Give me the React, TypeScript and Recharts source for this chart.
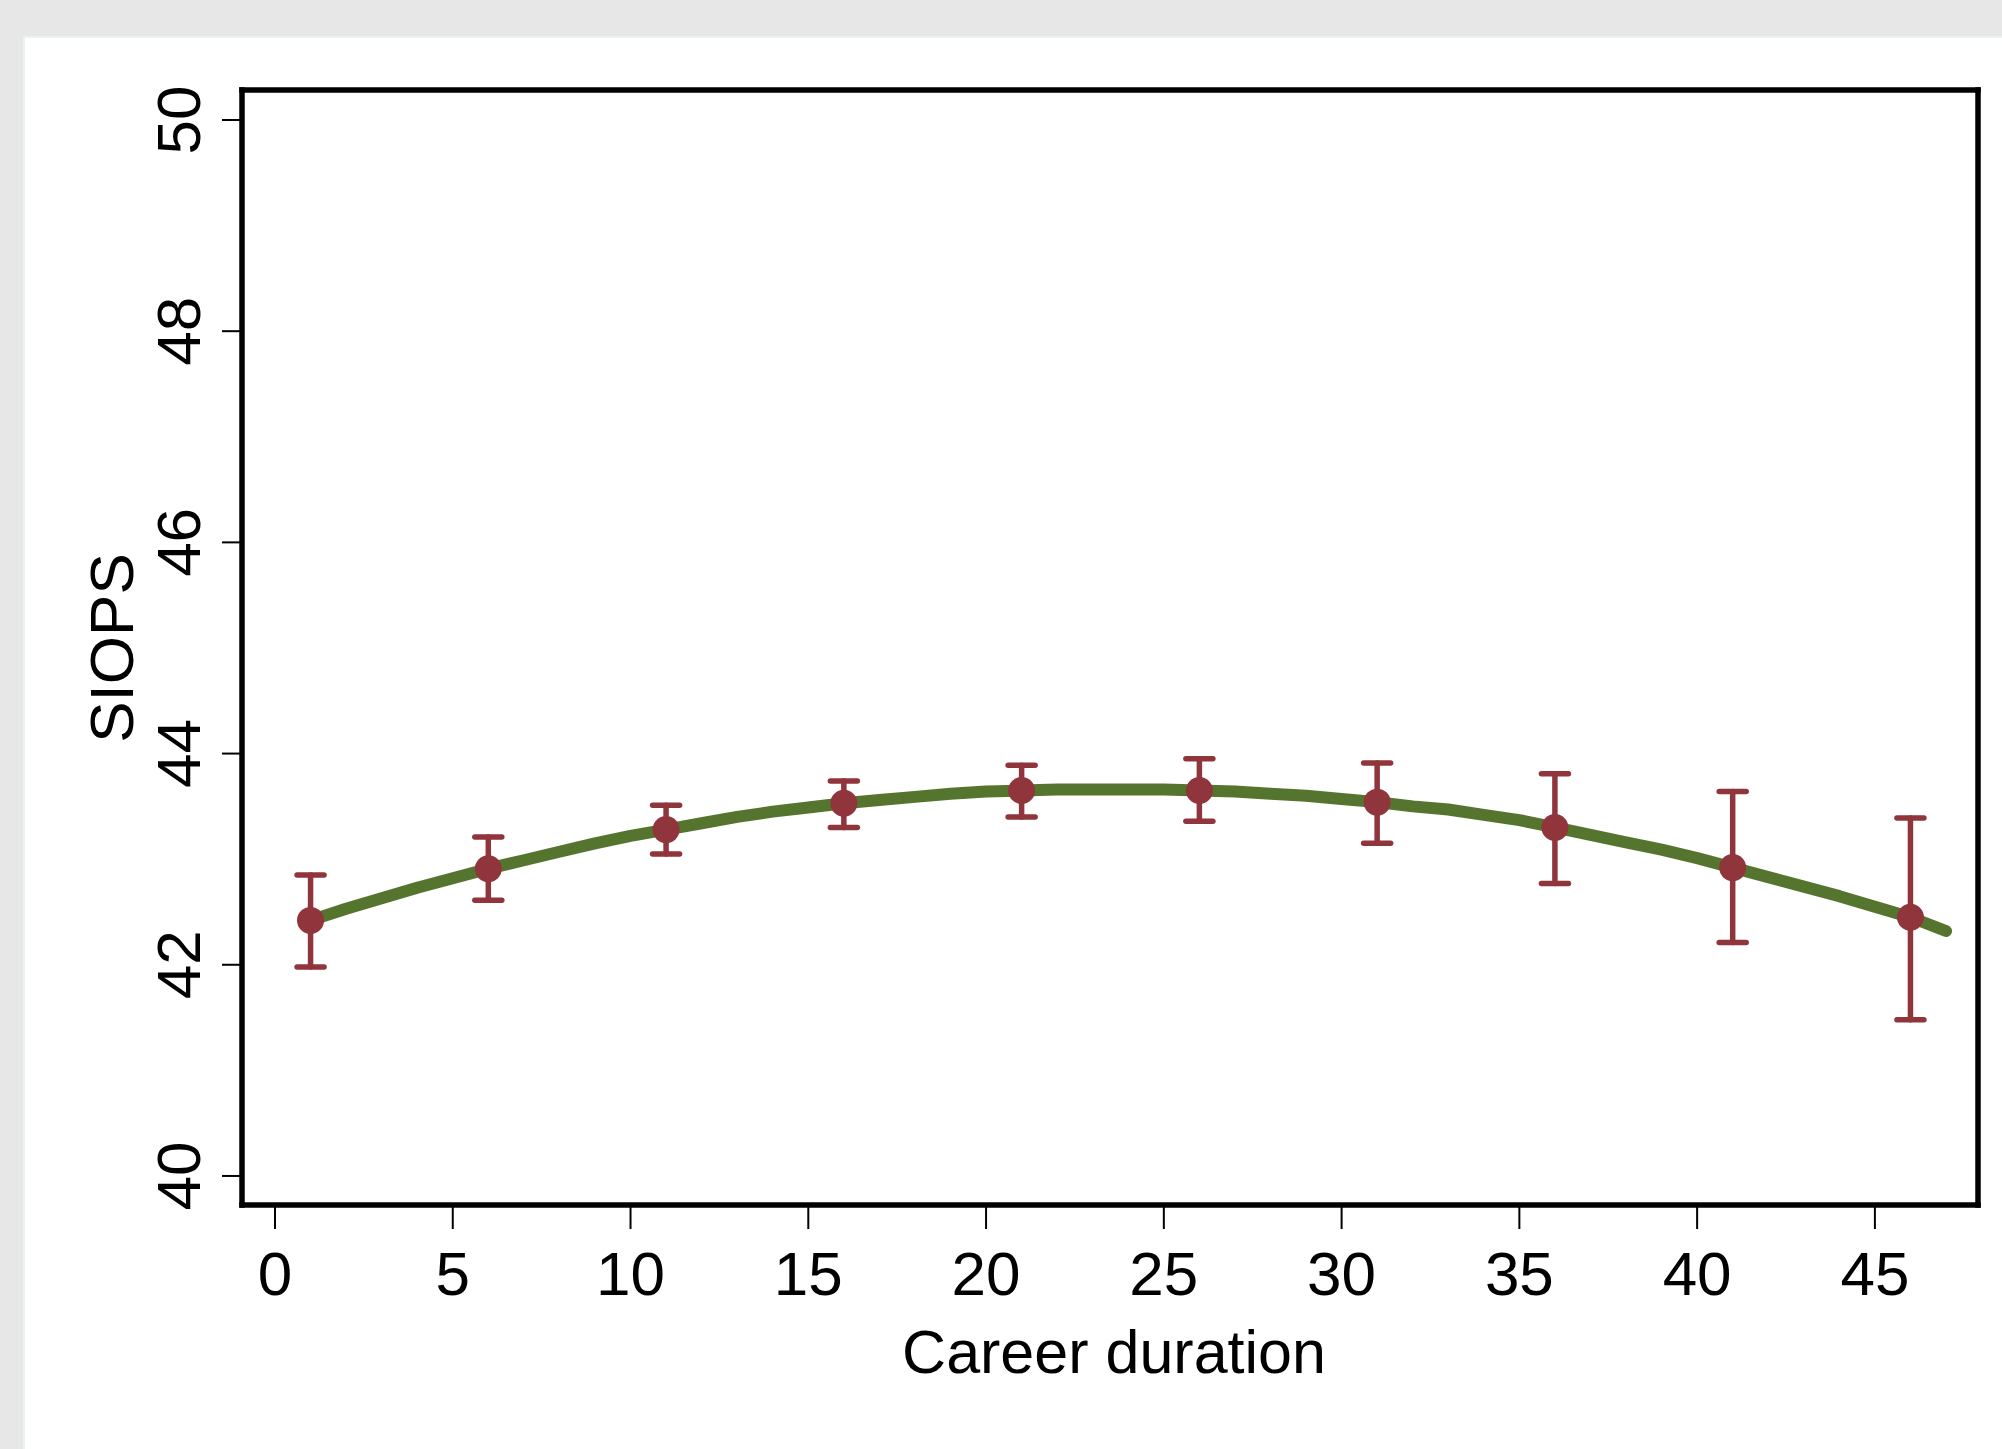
import { ComposedChart, Line, Scatter, ErrorBar, XAxis, YAxis } from 'recharts';

// fitted curve, one value per career year
const curveYears = [
  1, 2, 3, 4, 5, 6, 7, 8, 9, 10, 11, 12, 13, 14, 15, 16, 17, 18, 19, 20, 21, 22, 23, 24,
  25, 26, 27, 28, 29, 30, 31, 32, 33, 34, 35, 36, 37, 38, 39, 40, 41, 42, 43, 44, 45, 46, 47,
];
const curveValues = [
  42.42, 42.53, 42.63, 42.73, 42.82, 42.91, 42.99, 43.07, 43.15, 43.22, 43.28, 43.34, 43.4,
  43.45, 43.49, 43.53, 43.56, 43.59, 43.62, 43.64, 43.65, 43.66, 43.66, 43.66, 43.66, 43.65,
  43.64, 43.62, 43.6, 43.57, 43.54, 43.5, 43.47, 43.42, 43.37, 43.3, 43.23, 43.16, 43.09,
  43.01, 42.92, 42.83, 42.74, 42.65, 42.55, 42.45, 42.32,
];

// estimated points with confidence intervals
const pointYears = [1, 6, 11, 16, 21, 26, 31, 36, 41, 46];
const pointMeans = [42.42, 42.91, 43.28, 43.53, 43.65, 43.65, 43.54, 43.3, 42.92, 42.45];
const ciLow = [41.98, 42.61, 43.05, 43.3, 43.4, 43.36, 43.15, 42.77, 42.21, 41.48];
const ciHigh = [42.85, 43.21, 43.51, 43.74, 43.89, 43.95, 43.91, 43.81, 43.64, 43.39];

const xTicks = [0, 5, 10, 15, 20, 25, 30, 35, 40, 45];
const yTicks = [40, 42, 44, 46, 48, 50];

const X_MIN = -0.928;
const X_MAX = 47.9;
const Y_MIN = 39.725;
const Y_MAX = 50.284;

const GREEN = '#55752f';
const MAROON = '#90353b';
const FONT = '"Liberation Sans", Arial, Helvetica, sans-serif';
const FRAME = { stroke: '#000', strokeWidth: 5.5, strokeLinecap: 'square' as const };

const curveData = curveYears.map((x, i) => ({ x, y: curveValues[i] }));
const pointData = pointYears.map((x, i) => ({
  x,
  y: pointMeans[i],
  err: [pointMeans[i] - ciLow[i], ciHigh[i] - pointMeans[i]],
}));

const YTick = (props: any) => {
  const { x, y, payload } = props;
  return (
    <text
      x={x}
      y={y}
      transform={`rotate(-90 ${x} ${y})`}
      textAnchor="middle"
      fontSize={62}
      fontFamily={FONT}
      fill="#000"
    >
      {payload.value}
    </text>
  );
};

const XTick = (props: any) => {
  const { x, y, payload } = props;
  return (
    <text x={x} y={y} textAnchor="middle" fontSize={62} fontFamily={FONT} fill="#000">
      {payload.value}
    </text>
  );
};

const Dot = (props: any) => <circle cx={props.cx} cy={props.cy} r={13.5} fill={MAROON} />;

export default function App() {
  return (
    <div style={{ position: 'absolute', left: 0, top: 0, width: 2002, height: 1449, background: '#e7e7e7' }}>
      <div
        style={{
          position: 'absolute',
          left: 23,
          top: 36,
          right: 0,
          bottom: 0,
          background: '#fff',
          borderTop: '2px solid #eaf2f4',
          borderLeft: '2px solid #eaf2f4',
        }}
      />
      <div style={{ position: 'absolute', left: 0, top: 0 }}>
        <ComposedChart width={2002} height={1449} margin={{ top: 89, right: 23, bottom: 144, left: 142 }}>
          <XAxis
            dataKey="x"
            type="number"
            domain={[X_MIN, X_MAX]}
            ticks={xTicks}
            allowDataOverflow
            height={100}
            axisLine={FRAME}
            tickLine={{ stroke: '#000', strokeWidth: 2 }}
            tickSize={24}
            tickMargin={66}
            tick={<XTick />}
            interval={0}
            label={() => (
              <text x={1114} y={1373} textAnchor="middle" fontSize={61} fontFamily={FONT} fill="#000">
                Career duration
              </text>
            )}
          />
          <XAxis
            xAxisId="top"
            orientation="top"
            dataKey="x"
            type="number"
            domain={[X_MIN, X_MAX]}
            allowDataOverflow
            height={1}
            axisLine={FRAME}
            tickLine={false}
            tick={false}
          />
          <YAxis
            dataKey="y"
            type="number"
            domain={[Y_MIN, Y_MAX]}
            ticks={yTicks}
            allowDataOverflow
            width={100}
            axisLine={FRAME}
            tickLine={{ stroke: '#000', strokeWidth: 2 }}
            tickSize={20}
            tickMargin={22}
            tick={<YTick />}
            interval={0}
            label={() => (
              <text
                x={133}
                y={648}
                transform="rotate(-90 133 648)"
                textAnchor="middle"
                fontSize={62}
                fontFamily={FONT}
                fill="#000"
              >
                SIOPS
              </text>
            )}
          />
          <YAxis
            yAxisId="right"
            orientation="right"
            dataKey="y"
            type="number"
            domain={[Y_MIN, Y_MAX]}
            allowDataOverflow
            width={1}
            axisLine={FRAME}
            tickLine={false}
            tick={false}
          />
          <Line
            data={curveData}
            dataKey="y"
            type="linear"
            stroke={GREEN}
            strokeWidth={12}
            strokeLinecap="round"
            strokeLinejoin="round"
            dot={false}
            activeDot={false}
            isAnimationActive={false}
          />
          <Scatter data={pointData} dataKey="y" fill={MAROON} shape={<Dot />} isAnimationActive={false}>
            <ErrorBar
              dataKey="err"
              direction="y"
              width={13.5}
              stroke={MAROON}
              strokeWidth={5.5}
              strokeLinecap="round"
              isAnimationActive={false}
            />
          </Scatter>
        </ComposedChart>
      </div>
    </div>
  );
}
